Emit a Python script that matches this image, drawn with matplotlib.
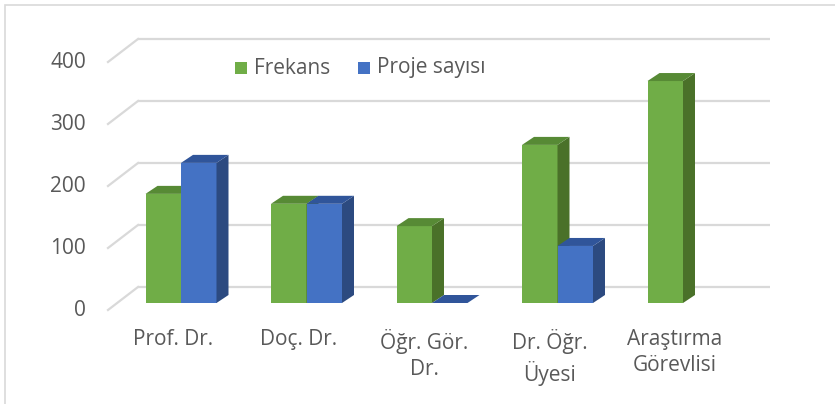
import matplotlib
matplotlib.use("Agg")
import matplotlib.pyplot as plt
from matplotlib.patches import Polygon, Rectangle
import numpy as np

categories = ["Prof. Dr.", "Doç. Dr.", "Öğr. Gör.\nDr.", "Dr. Öğr.\nÜyesi", "Araştırma\nGörevlisi"]
frekans = [176, 160, 124, 255, 358]
proje = [226, 160, 0, 92, np.nan]
yticks = [0, 100, 200, 300, 400]

plt.rcParams['font.family'] = ['Open Sans', 'DejaVu Sans']
TXT = '#595959'
GRID = '#D9D9D9'
FS = 15

green = ('#70AD47', '#4A7129', '#578A35')   # front, side, top
blue = ('#4472C4', '#2C4A80', '#30559A')

fig = plt.figure(figsize=(8.35, 4.04), dpi=100)
ax = fig.add_axes([0, 0, 1, 1])
# pixel anchors: group i center at 181 + 125.5*i px, value 0 at 303 px, 62 px per 100
ax.set_xlim((0 - 181) / 125.5, (835 - 181) / 125.5)
ax.set_ylim(-(404 - 303) / 0.62, 303 / 0.62)
ax.axis('off')

w = 35.5 / 125.5           # bar width
dx, dy = 12 / 125.5, 8 / 0.62   # depth offset
bx0, bx1 = (138 - 181) / 125.5, (770 - 181) / 125.5
boff = 16 / 0.62
ddx, ddy = -30 / 125.5, -37.1

# back wall gridlines and floor diagonals
for v in yticks:
    yb = v + boff
    ax.plot([bx0, bx1], [yb, yb], color=GRID, lw=1.6, zorder=1, solid_capstyle='butt')
    ax.plot([bx0 + ddx, bx0], [yb + ddy, yb], color=GRID, lw=1.6, zorder=1)
    ax.text(-95 / 125.5, yb + ddy, str(v), ha='right', va='center', fontsize=FS, color=TXT)


def bar3d(x0, h, cols, z):
    x1 = x0 + w
    if np.isnan(h):
        return
    if h > 0:
        ax.add_patch(Rectangle((x0, 0), w, h, facecolor=cols[0], edgecolor='none', zorder=z))
        ax.add_patch(Polygon([(x1, 0), (x1 + dx, dy), (x1 + dx, h + dy), (x1, h)],
                             closed=True, facecolor=cols[1], edgecolor='none', zorder=z))
    ax.add_patch(Polygon([(x0, h), (x1, h), (x1 + dx, h + dy), (x0 + dx, h + dy)],
                         closed=True, facecolor=cols[2], edgecolor='none', zorder=z))


z = 2
for i in range(len(categories)):
    bar3d(i - w, frekans[i], green, z)
    z += 1
    bar3d(i, proje[i], blue, z)
    z += 1
    ax.text(i - 0.064, -(329 - 303) / 0.62, categories[i], ha='center', va='top',
            fontsize=FS, color=TXT, linespacing=1.33)

# legend
lx, ly = (235 - 181) / 125.5, (303 - 68) / 0.62
ax.add_patch(Rectangle((lx, ly - 6 / 0.62), 12 / 125.5, 12 / 0.62, facecolor=green[0], edgecolor='none'))
ax.text(lx + 19 / 125.5, ly, 'Frekans', ha='left', va='center', fontsize=FS, color=TXT)
lx2 = (358 - 181) / 125.5
ax.add_patch(Rectangle((lx2, ly - 6 / 0.62), 12 / 125.5, 12 / 0.62, facecolor=blue[0], edgecolor='none'))
ax.text(lx2 + 19 / 125.5, ly, 'Proje sayısı', ha='left', va='center', fontsize=FS, color=TXT)

# chart border
fig.patches.append(Rectangle((5 / 835, -0.01), 1.02, 1 - 5 / 404 + 0.01, transform=fig.transFigure,
                             facecolor='none', edgecolor='#D9D9D9', lw=1.2))

fig.savefig('out.png', dpi=100)
